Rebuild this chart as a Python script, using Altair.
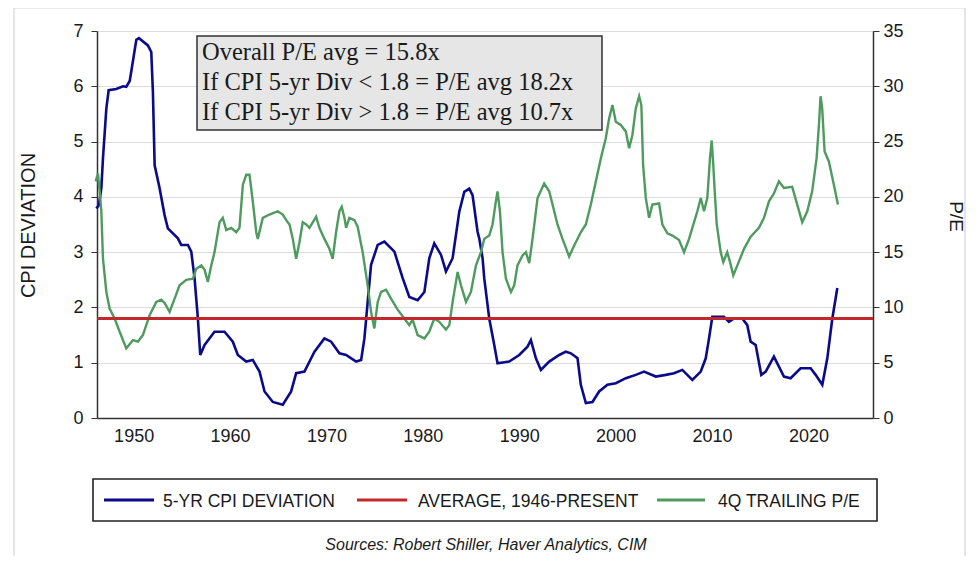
import altair as alt
import pandas as pd

# ---------------- data ----------------
cpi_years = [1946.13, 1946.4, 1946.65, 1946.82, 1947.17, 1947.41, 1948.2, 1948.9, 1949.24, 1949.6,
             1950.28, 1950.55, 1951.48, 1951.83, 1952.0, 1952.18, 1952.69, 1953.21, 1953.55, 1954.59,
             1954.94, 1955.63, 1955.98, 1956.32, 1956.66, 1956.91, 1957.36, 1958.39, 1959.43, 1960.29,
             1960.81, 1961.68, 1962.36, 1963.06, 1963.58, 1964.44, 1965.47, 1966.34, 1966.86, 1967.72,
             1968.76, 1969.79, 1970.49, 1971.35, 1972.04, 1973.08, 1973.6, 1973.94, 1974.28, 1974.63,
             1975.32, 1976.01, 1977.05, 1977.91, 1978.6, 1979.46, 1980.16, 1980.67, 1981.19, 1981.89,
             1982.4, 1983.09, 1983.78, 1984.3, 1984.82, 1985.16, 1985.68, 1985.85, 1986.2, 1986.37,
             1986.89, 1987.41, 1987.75, 1988.96, 1990.0, 1990.86, 1991.21, 1991.73, 1992.25, 1993.11,
             1994.15, 1994.84, 1995.36, 1996.05, 1996.39, 1996.91, 1997.6, 1998.29, 1999.15, 2000.02,
             2001.06, 2002.09, 2002.95, 2004.17, 2005.2, 2006.06, 2006.92, 2007.96, 2008.83, 2009.35,
             2009.69, 2010.03, 2011.24, 2011.76, 2012.28, 2013.14, 2013.66, 2014.01, 2014.53, 2015.11,
             2015.57, 2016.42, 2017.46, 2018.15, 2019.19, 2020.23, 2020.75, 2021.44, 2021.96, 2022.48,
             2023.0]
cpi_values = [3.79, 3.85, 4.16, 4.7, 5.6, 5.93, 5.95, 6.0, 5.99, 6.1,
              6.84, 6.87, 6.74, 6.62, 5.9, 4.57, 4.16, 3.67, 3.43, 3.25,
              3.13, 3.13, 3.01, 2.53, 1.81, 1.14, 1.32, 1.56, 1.56, 1.38,
              1.14, 1.02, 1.05, 0.84, 0.48, 0.29, 0.24, 0.48, 0.81, 0.84,
              1.2, 1.44, 1.38, 1.17, 1.14, 1.02, 1.05, 1.44, 2.1, 2.77,
              3.13, 3.19, 3.01, 2.53, 2.19, 2.13, 2.28, 2.89, 3.16, 2.95,
              2.65, 2.89, 3.73, 4.09, 4.15, 4.03, 3.37, 3.25, 2.89, 2.53,
              1.8, 1.32, 0.99, 1.02, 1.14, 1.29, 1.41, 1.08, 0.87, 1.02,
              1.14, 1.2, 1.17, 1.08, 0.6, 0.27, 0.29, 0.48, 0.6, 0.63,
              0.72, 0.78, 0.84, 0.75, 0.78, 0.81, 0.87, 0.69, 0.84, 1.08,
              1.44, 1.83, 1.83, 1.74, 1.8, 1.8, 1.68, 1.38, 1.32, 0.78,
              0.84, 1.11, 0.75, 0.72, 0.9, 0.9, 0.78, 0.6, 1.08, 1.8,
              2.35]

pe_years = [1946.06, 1946.3, 1946.48, 1946.65, 1946.82, 1947.17, 1947.51, 1948.03, 1948.55, 1949.24,
            1949.93, 1950.45, 1950.96, 1951.66, 1952.35, 1952.87, 1953.21, 1953.73, 1954.25, 1954.77,
            1955.46, 1956.15, 1956.5, 1957.02, 1957.36, 1957.7, 1958.05, 1958.39, 1958.91, 1959.25,
            1959.61, 1960.12, 1960.64, 1960.98, 1961.33, 1961.68, 1962.02, 1962.36, 1962.72, 1962.88,
            1963.4, 1964.09, 1964.95, 1965.47, 1965.99, 1966.17, 1966.51, 1966.86, 1967.2, 1967.54,
            1967.9, 1968.24, 1968.58, 1968.93, 1969.27, 1969.79, 1970.31, 1970.65, 1971.0, 1971.35,
            1971.59, 1971.87, 1972.04, 1972.38, 1972.9, 1973.24, 1973.76, 1974.28, 1974.63, 1974.97,
            1975.32, 1975.67, 1976.19, 1976.7, 1977.39, 1978.08, 1978.6, 1978.94, 1979.46, 1980.16,
            1980.67, 1981.19, 1981.71, 1982.4, 1982.75, 1983.09, 1983.61, 1983.96, 1984.48, 1984.99,
            1985.51, 1986.03, 1986.37, 1986.89, 1987.23, 1987.58, 1987.75, 1988.0, 1988.27, 1988.62,
            1989.14, 1989.48, 1989.82, 1990.34, 1990.69, 1991.04, 1991.38, 1991.9, 1992.59, 1993.11,
            1993.63, 1993.97, 1994.49, 1995.18, 1995.7, 1996.39, 1996.91, 1997.43, 1997.95, 1998.47,
            1998.98, 1999.33, 1999.67, 2000.02, 2000.54, 2001.06, 2001.4, 2001.74, 2002.09, 2002.44,
            2002.67, 2002.85, 2003.13, 2003.47, 2003.81, 2004.51, 2004.85, 2005.37, 2005.89, 2006.58,
            2007.1, 2007.62, 2008.13, 2008.48, 2008.83, 2009.17, 2009.51, 2009.79, 2009.97, 2010.13,
            2010.28, 2010.49, 2010.9, 2011.17, 2011.58, 2011.87, 2012.21, 2012.63, 2013.32, 2014.01,
            2014.87, 2015.39, 2015.91, 2016.42, 2016.94, 2017.46, 2018.32, 2018.84, 2019.36, 2019.88,
            2020.39, 2020.85, 2021.09, 2021.26, 2021.43, 2021.68, 2022.12, 2022.64, 2023.06]
pe_values = [21.4, 22.1, 20.5, 18.7, 14.4, 11.4, 9.9, 9.0, 7.8, 6.3,
             7.05, 6.9, 7.5, 9.3, 10.5, 10.7, 10.4, 9.6, 10.8, 12.0,
             12.5, 12.6, 13.5, 13.8, 13.4, 12.3, 13.8, 15.0, 17.7, 18.1,
             17.0, 17.2, 16.8, 17.2, 21.1, 22.0, 22.0, 19.6, 16.8, 16.2,
             18.1, 18.4, 18.7, 18.4, 17.7, 17.5, 16.2, 14.4, 15.9, 17.7,
             17.5, 17.2, 17.7, 18.2, 17.2, 16.2, 15.3, 14.4, 16.8, 18.7,
             19.1, 18.1, 17.2, 18.1, 17.9, 17.3, 15.0, 12.0, 9.6, 8.1,
             10.5, 11.4, 11.6, 10.8, 9.8, 9.0, 8.4, 8.9, 7.5, 7.2,
             7.8, 9.0, 8.7, 8.0, 8.4, 10.5, 13.2, 12.0, 10.5, 11.4,
             13.8, 15.0, 16.2, 16.5, 17.5, 19.6, 20.5, 18.7, 15.0, 12.6,
             11.4, 12.0, 13.8, 14.7, 15.0, 14.0, 16.2, 19.9, 21.2, 20.5,
             18.7, 17.5, 16.2, 14.6, 15.6, 16.8, 17.5, 19.3, 21.4, 23.5,
             25.3, 27.1, 28.3, 26.8, 26.5, 25.9, 24.4, 25.6, 28.0, 29.1,
             28.3, 22.9, 19.9, 18.1, 19.3, 19.4, 17.5, 16.7, 16.5, 16.1,
             15.0, 16.2, 17.7, 18.7, 19.9, 18.7, 19.9, 23.5, 25.1, 22.9,
             20.5, 17.5, 15.0, 14.1, 15.0, 14.1, 12.9, 13.8, 15.3, 16.4,
             17.2, 18.1, 19.6, 20.3, 21.4, 20.8, 20.9, 19.3, 17.7, 18.7,
             20.5, 23.5, 26.5, 29.1, 28.0, 24.1, 23.2, 21.1, 19.3]

avg_years = [1946.2, 2026.7]
avg_values = [1.8, 1.8]

series_names = ["5-YR CPI DEVIATION", "AVERAGE, 1946-PRESENT", "4Q TRAILING P/E"]
series_colors = ["#0b0b8a", "#c1272d", "#4f9a5f"]

note_lines = ["Overall P/E avg = 15.8x",
              "If CPI 5-yr Div < 1.8 = P/E avg 18.2x",
              "If CPI 5-yr Div > 1.8 = P/E avg 10.7x"]
source_text = "Sources:  Robert Shiller, Haver Analytics, CIM"

x_ticks = [1950, 1960, 1970, 1980, 1990, 2000, 2010, 2020]
left_ticks = [0, 1, 2, 3, 4, 5, 6, 7]
right_ticks = [0, 5, 10, 15, 20, 25, 30, 35]
x_domain = [1946.2, 2026.7]

# ---------------- build ----------------
FONT = "Liberation Sans"
TXT = "#1a1a1a"

cpi_df = pd.DataFrame({"year": cpi_years, "value": cpi_values, "series": series_names[0]})
avg_df = pd.DataFrame({"year": avg_years, "value": avg_values, "series": series_names[1]})
pe_df = pd.DataFrame({"year": pe_years, "value": pe_values, "series": series_names[2]})

color = alt.Color("series:N", scale=alt.Scale(domain=series_names, range=series_colors), legend=None)

x_axis = alt.Axis(values=x_ticks, format="d", ticks=False, tickSize=0, grid=False, title=None,
                  labelFont=FONT, labelFontSize=18, labelColor=TXT, labelPadding=9,
                  domainColor="#333333", domainWidth=1.5)
x_enc = alt.X("year:Q", scale=alt.Scale(domain=x_domain, nice=False, zero=False), axis=x_axis)

left_axis = alt.Axis(orient="left", values=left_ticks, title="CPI DEVIATION", grid=True,
                     gridColor="#dcdcdc", gridWidth=1, tickSize=6, tickColor="#333333",
                     labelFont=FONT, labelFontSize=18, labelColor=TXT, labelPadding=8,
                     domainColor="#333333", domainWidth=1.5,
                     titleFont=FONT, titleFontSize=20, titleFontWeight="normal", titleColor=TXT,
                     titleX=-59, titleY=194)
right_axis = alt.Axis(orient="right", values=right_ticks, title="P/E", grid=False,
                      tickSize=6, tickColor="#333333",
                      labelFont=FONT, labelFontSize=18, labelColor=TXT, labelPadding=4,
                      domainColor="#333333", domainWidth=1.5,
                      titleFont=FONT, titleFontSize=19, titleFontWeight="normal", titleColor=TXT,
                      titleX=72, titleY=185)

cpi_line = alt.Chart(cpi_df).mark_line(strokeWidth=2.6).encode(
    x=x_enc,
    y=alt.Y("value:Q", scale=alt.Scale(domain=[0, 7], nice=False), axis=left_axis),
    color=color,
)
pe_line = alt.Chart(pe_df).mark_line(strokeWidth=2.4).encode(
    x=x_enc,
    y=alt.Y("value:Q", scale=alt.Scale(domain=[0, 35], nice=False), axis=right_axis),
    color=color,
)
avg_line = alt.Chart(avg_df).mark_line(strokeWidth=3).encode(
    x=x_enc,
    y=alt.Y("value:Q", scale=alt.Scale(domain=[0, 7], nice=False), axis=None),
    color=color,
)

one = pd.DataFrame({"k": [0]})

# annotation box
note_box = alt.Chart(one).mark_rect(fill="#e6e6e6", stroke="#333333", strokeWidth=1.5).encode(
    x=alt.value(100), x2=alt.value(505), y=alt.value(5), y2=alt.value(99))
note_layers = []
for i, line in enumerate(note_lines):
    note_layers.append(
        alt.Chart(one).mark_text(text=line, font="Liberation Serif", fontSize=24.5, color=TXT,
                                 align="left", baseline="alphabetic").encode(
            x=alt.value(105), y=alt.value(29 + 30 * i)))

# legend (boxed, below the plot)
legend_box = alt.Chart(one).mark_rect(fill="white", stroke="#222222", strokeWidth=1.6).encode(
    x=alt.value(-4), x2=alt.value(780), y=alt.value(448), y2=alt.value(490))
legend_sym_x = [(7, 57), (260, 310), (560, 608)]
legend_txt_x = [66, 321, 621]
legend_layers = []
for i, name in enumerate(series_names):
    x0, x1 = legend_sym_x[i]
    legend_layers.append(
        alt.Chart(one).mark_rule(strokeWidth=3, color=series_colors[i]).encode(
            x=alt.value(x0), x2=alt.value(x1), y=alt.value(469)))
    legend_layers.append(
        alt.Chart(one).mark_text(text=name, font=FONT, fontSize=17.5, color=TXT,
                                 align="left", baseline="alphabetic").encode(
            x=alt.value(legend_txt_x[i]), y=alt.value(476)))

source = alt.Chart(one).mark_text(text=source_text, font=FONT, fontSize=16,
                                  fontStyle="italic", color=TXT, align="center",
                                  baseline="alphabetic").encode(x=alt.value(389), y=alt.value(519))

outer = alt.Chart(one).mark_rect(fill=None, stroke="#d4d4d4", strokeWidth=1.2).encode(
    x=alt.value(-83), x2=alt.value(868), y=alt.value(-23), y2=alt.value(600))

chart = alt.layer(
    outer, cpi_line, pe_line, avg_line, note_box, *note_layers, legend_box, *legend_layers, source
).resolve_scale(y="independent").properties(
    width=776, height=387,
    autosize=alt.AutoSizeParams(type="none"),
    padding={"left": 89, "top": 23, "right": 95, "bottom": 138},
).configure_view(stroke="#333333", strokeWidth=1.5).configure(background="white")

chart.save("out.html", embed_options={"renderer": "svg", "actions": False})
